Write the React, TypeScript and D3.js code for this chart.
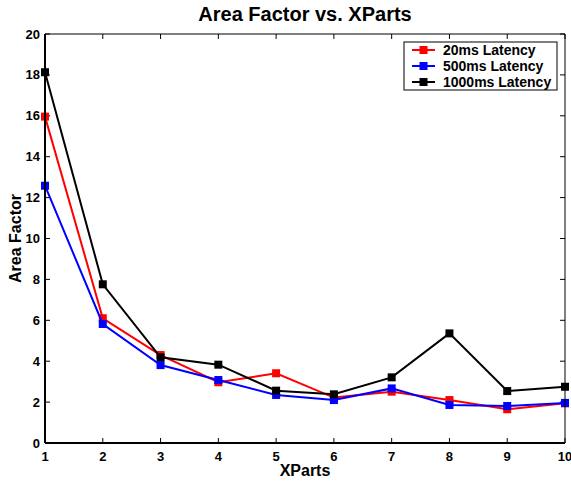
import React from "react";
import * as d3 from "d3";

const xParts = [1, 2, 3, 4, 5, 6, 7, 8, 9, 10];
const lat20 = [15.96, 6.1, 4.3, 2.97, 3.41, 2.22, 2.51, 2.1, 1.65, 1.94];
const lat500 = [12.58, 5.82, 3.81, 3.08, 2.35, 2.1, 2.67, 1.86, 1.81, 1.96];
const lat1000 = [18.13, 7.76, 4.19, 3.83, 2.56, 2.38, 3.21, 5.36, 2.54, 2.75];
const seriesNames = ["20ms Latency", "500ms Latency", "1000ms Latency"];
const seriesColors = ["#ff0000", "#0000ff", "#000000"];
const yTicks = [0, 2, 4, 6, 8, 10, 12, 14, 16, 18, 20];

export default function App() {
  const W = 571, H = 483;
  const L = 45, R = 565, T = 34, B = 443;
  const x = d3.scaleLinear().domain([1, 10]).range([L, R]);
  const y = d3.scaleLinear().domain([0, 20]).range([B, T]);
  const series = [lat20, lat500, lat1000];
  const line = d3
    .line<number>()
    .x((_, i) => x(xParts[i]))
    .y((d) => y(d));
  const font = "Liberation Sans, Arial, Helvetica, sans-serif";
  const tl = 5;
  const ms = 8;
  return (
    <svg
      width={W}
      height={H}
      style={{ position: "absolute", left: 0, top: 0, background: "#fff" }}
      fontFamily={font}
      fontWeight="bold"
    >
      <rect x={0} y={0} width={W} height={H} fill="#fff" />
      {xParts.map((v) => (
        <g key={"xt" + v}>
          <line x1={x(v)} x2={x(v)} y1={B} y2={B - tl} stroke="#000" strokeWidth={1} />
          <line x1={x(v)} x2={x(v)} y1={T} y2={T + tl} stroke="#000" strokeWidth={1} />
          <text x={x(v)} y={461} fontSize={13} textAnchor="middle">
            {v}
          </text>
        </g>
      ))}
      {yTicks.map((v) => (
        <g key={"yt" + v}>
          <line x1={L} x2={L + tl} y1={y(v)} y2={y(v)} stroke="#000" strokeWidth={1} />
          <line x1={R} x2={R - tl} y1={y(v)} y2={y(v)} stroke="#000" strokeWidth={1} />
          <text x={40} y={y(v) + 4.5} fontSize={13} textAnchor="end">
            {v}
          </text>
        </g>
      ))}
      {series.map((s, si) => (
        <g key={"s" + si}>
          <path d={line(s) || ""} fill="none" stroke={seriesColors[si]} strokeWidth={2} />
          {s.map((d, i) => (
            <rect
              key={i}
              x={x(xParts[i]) - ms / 2}
              y={y(d) - ms / 2}
              width={ms}
              height={ms}
              fill={seriesColors[si]}
            />
          ))}
        </g>
      ))}
      <line x1={L} x2={R} y1={B} y2={B} stroke="#000" strokeWidth={2} />
      <line x1={L} x2={L} y1={T} y2={B} stroke="#000" strokeWidth={2} />
      <line x1={L} x2={R} y1={T} y2={T} stroke="#000" strokeWidth={1} />
      <line x1={R} x2={R} y1={T} y2={B} stroke="#000" strokeWidth={1} />
      <rect x={404} y={42} width={153} height={48} fill="#fff" stroke="#000" strokeWidth={1} />
      {seriesNames.map((n, i) => {
        const ly = 50 + i * 16;
        return (
          <g key={"lg" + i}>
            <line x1={412} x2={435} y1={ly} y2={ly} stroke={seriesColors[i]} strokeWidth={2} />
            <rect x={423.5 - ms / 2} y={ly - ms / 2} width={ms} height={ms} fill={seriesColors[i]} />
            <text x={443} y={ly + 5} fontSize={14}>
              {n}
            </text>
          </g>
        );
      })}
      <text x={305} y={21} fontSize={20} textAnchor="middle">
        Area Factor vs. XParts
      </text>
      <text x={305} y={476} fontSize={16} textAnchor="middle">
        XParts
      </text>
      <text
        transform={`translate(21,${(T + B) / 2}) rotate(-90)`}
        fontSize={16}
        textAnchor="middle"
      >
        Area Factor
      </text>
    </svg>
  );
}
